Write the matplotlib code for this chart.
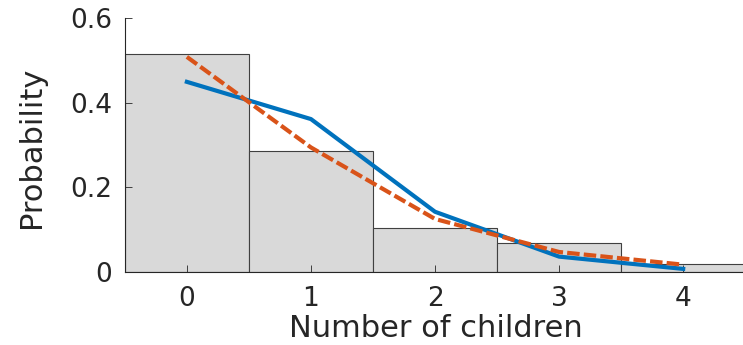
import matplotlib.pyplot as plt

children = [0, 1, 2, 3, 4]
observed = [0.515, 0.286, 0.104, 0.069, 0.019]
model_a = [0.449, 0.361, 0.142, 0.036, 0.007]
model_b = [0.508, 0.294, 0.125, 0.047, 0.017]

fig = plt.figure(figsize=(7.43, 3.45), dpi=100)
ax = fig.add_axes([0.168, 0.212, 0.835, 0.736])

ax.bar(children, observed, width=1.0, color="#d9d9d9", edgecolor="#404040",
       linewidth=0.8, zorder=1)
ax.plot(children, model_a, color="#0072BD", linewidth=3, zorder=3)
ax.plot(children, model_b, color="#D95319", linewidth=3, linestyle=(0, (3, 1)),
        zorder=4)

ax.set_xlim(-0.5, 4.5)
ax.set_ylim(0, 0.6)
ax.set_xticks(children)
ax.set_yticks([0, 0.2, 0.4, 0.6])
ax.set_yticklabels(["0", "0.2", "0.4", "0.6"])

for side in ["top", "right"]:
    ax.spines[side].set_visible(False)
for side in ["left", "bottom"]:
    ax.spines[side].set_color("#262626")
    ax.spines[side].set_linewidth(0.8)

ax.tick_params(direction="in", length=5, width=0.6, color="#262626",
               labelsize=19, labelcolor="#262626")
ax.tick_params(axis="x", pad=10)
ax.tick_params(axis="y", pad=9)
ax.set_xlabel("Number of children", fontsize=22, color="#262626")
ax.set_ylabel("Probability", fontsize=22, color="#262626")
ax.xaxis.set_label_coords(0.502, -0.165)
ax.yaxis.set_label_coords(-0.127, 0.49)

fig.savefig("out.png", dpi=100)
